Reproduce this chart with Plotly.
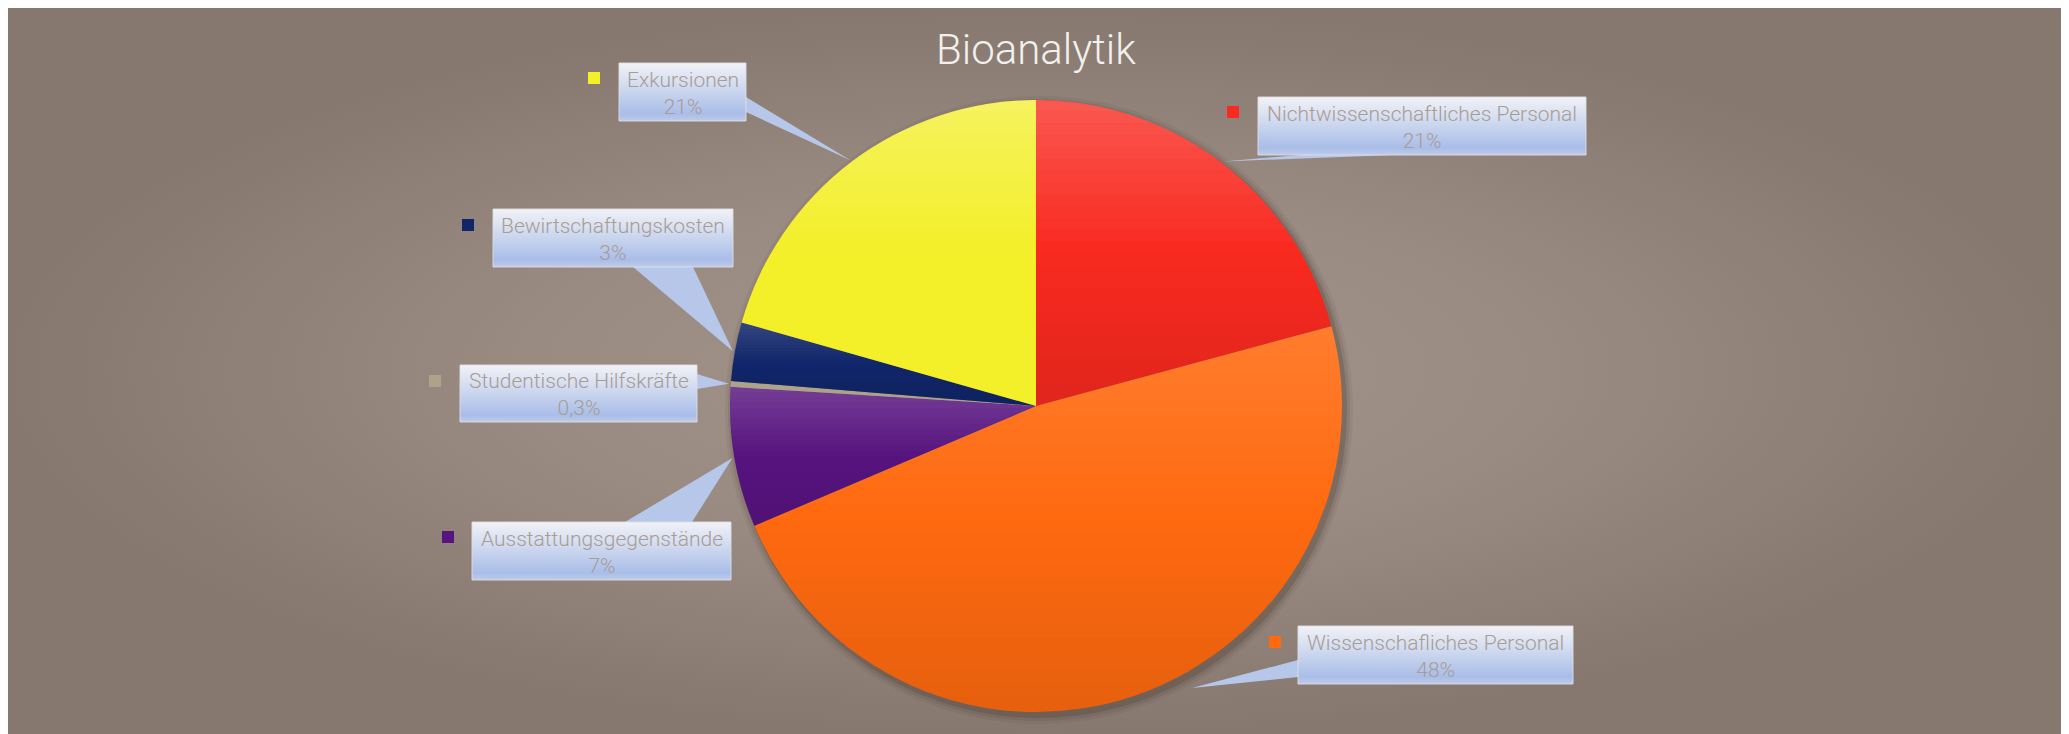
import numpy as np
import plotly.graph_objects as go

# ---------------- data ----------------
categories = [
    "Nichtwissenschaftliches Personal",
    "Wissenschafliches Personal",
    "Ausstattungsgegenstände",
    "Studentische Hilfskräfte",
    "Bewirtschaftungskosten",
    "Exkursionen",
]
shares = [20.8, 47.8, 7.4, 0.3, 3.1, 20.6]
pct_labels = ["21%", "48%", "7%", "0,3%", "3%", "21%"]
chart_title = "Bioanalytik"

# ---------------- styling / layout (screen pixels; page has 8px body margin) ----------------
slice_colors = ["#f92a20", "#ff6a10", "#57147f", "#ada38b", "#11266a", "#f3ef28"]
# per-slice shading: (white alpha at top, black alpha at bottom)
slice_shade = [(0.22, 0.10), (0.13, 0.10), (0.18, 0.08), (0.0, 0.0), (0.15, 0.10), (0.26, 0.0)]
OFF = 8
W, H = 2057, 726
X0, X1, Y0, Y1 = OFF, OFF + W, OFF, OFF + H
CX, CY, R = 1036, 406, 306

# callout boxes (x0, y0, x1, y1), legend-square position, pointer base points, optional tip
boxes = [
    dict(box=(1258, 97, 1586, 155), sq=(1233, 112), base=((1300, 155), (1393, 155))),
    dict(box=(1298, 626, 1573, 684), sq=(1275, 642), base=((1298, 660), (1298, 677)),
         tip=(1192, 688)),
    dict(box=(472, 522, 731, 580), sq=(448, 537), base=((625, 522), (692, 522))),
    dict(box=(460, 365, 697, 422), sq=(435, 381), base=((697, 374), (697, 389))),
    dict(box=(493, 209, 733, 267), sq=(468, 225), base=((633, 267), (693, 267))),
    dict(box=(619, 63, 746, 121), sq=(594, 78), base=((746, 97), (746, 112))),
]

fig = go.Figure()

# background radial gradient
fig.add_trace(go.Scatter(
    x=[X0, X1, X1, X0, X0], y=[Y0, Y0, Y1, Y1, Y0], mode="lines", fill="toself",
    line=dict(width=0),
    fillgradient=dict(type="radial",
                      colorscale=[[0, "#a29489"], [0.5, "#998b81"], [1, "#86786e"]]),
    hoverinfo="skip", showlegend=False))

# soft pie shadow
t = np.linspace(0, 2 * np.pi, 200)
for dr, alpha in [(8, 0.06), (5, 0.10), (2, 0.18)]:
    fig.add_trace(go.Scatter(
        x=CX + 3 + (R + dr) * np.cos(t), y=CY + 4 + (R + dr) * np.sin(t),
        mode="lines", fill="toself", line=dict(width=0),
        fillcolor=f"rgba(55,40,30,{alpha})", hoverinfo="skip", showlegend=False))

# slice angles (clockwise from 12 o'clock)
total = sum(shares)
cum = np.cumsum([0] + shares)
starts = [c / total * 2 * np.pi for c in cum[:-1]]
ends = [c / total * 2 * np.pi for c in cum[1:]]
mids = [(a + b) / 2 for a, b in zip(starts, ends)]

for i, cfg in enumerate(boxes):
    x0, y0, x1, y1 = cfg["box"]
    th = mids[i]
    tip = cfg.get("tip", (CX + (R + 2) * np.sin(th), CY - (R + 2) * np.cos(th)))
    (ax, ay), (bx2, by2) = cfg["base"]
    fig.add_trace(go.Scatter(
        x=[ax, tip[0], bx2, ax], y=[ay, tip[1], by2, ay], mode="lines",
        fill="toself", line=dict(width=0), fillcolor="#b6c7ea",
        hoverinfo="skip", showlegend=False))
    fig.add_trace(go.Scatter(
        x=[x0, x1, x1, x0, x0], y=[y0, y0, y1, y1, y0], mode="lines",
        fill="toself", line=dict(width=1, color="rgba(222,222,228,0.9)"),
        fillgradient=dict(type="vertical", start=y0, stop=y1,
                          colorscale=[[0, "#f1f2f7"], [0.5, "#c9d5ee"],
                                      [0.88, "#a9bde8"], [1, "#bfcce9"]]),
        hoverinfo="skip", showlegend=False))
    fig.add_annotation(
        x=(x0 + x1) / 2, y=(y0 + y1) / 2 + 1, xref="x", yref="y",
        text=f"{categories[i]}<br>{pct_labels[i]}", showarrow=False,
        xanchor="center", yanchor="middle", align="center",
        font=dict(family="Roboto", size=21, color="#a89c94", weight=300))

fig.add_trace(go.Scatter(
    x=[b["sq"][0] for b in boxes], y=[b["sq"][1] for b in boxes],
    mode="markers", marker=dict(symbol="square", size=12, color=slice_colors,
                                line=dict(width=0)),
    hoverinfo="skip", showlegend=False))

fig.add_trace(go.Pie(
    labels=categories, values=shares, sort=False, direction="clockwise",
    rotation=0, textinfo="none", showlegend=False,
    marker=dict(colors=slice_colors, line=dict(width=0)),
    domain=dict(x=[(CX - R - X0) / W, (CX + R - X0) / W],
                y=[(Y1 - CY - R) / H, (Y1 - CY + R) / H])))


# ---- per-slice vertical shading overlay (light top, darker bottom) ----
def clip_half(poly, yv, keep_below):
    out = []
    n = len(poly)
    for k in range(n):
        cur, prev = poly[k], poly[k - 1]
        cin = cur[1] >= yv if keep_below else cur[1] <= yv
        pin = prev[1] >= yv if keep_below else prev[1] <= yv
        if cin != pin:
            f = (yv - prev[1]) / (cur[1] - prev[1])
            out.append((prev[0] + f * (cur[0] - prev[0]), yv))
        if cin:
            out.append(cur)
    return out


shapes = []
NSTRIP = 26
for (a0, a1), (wa, ba) in zip(zip(starts, ends), slice_shade):
    if a1 - a0 < 0.02:
        continue
    nseg = max(2, int(np.degrees(a1 - a0)))
    angs = np.linspace(a0, a1, nseg + 1)
    wedge = [(CX, CY)] + [(CX + R * np.sin(a), CY - R * np.cos(a)) for a in angs]
    ys = [p[1] for p in wedge]
    top, bot = min(ys), max(ys)
    edges = np.linspace(top, bot, NSTRIP + 1)
    for k in range(NSTRIP):
        f = (k + 0.5) / NSTRIP
        alpha = wa * (1 - 2 * f) if f < 0.5 else ba * (2 * f - 1)
        if alpha <= 0.002:
            continue
        band = clip_half(clip_half(wedge, edges[k], True), edges[k + 1], False)
        if len(band) < 3:
            continue
        col = (f"rgba(255,255,255,{alpha:.3f})" if f < 0.5
               else f"rgba(0,0,0,{alpha:.3f})")
        path = "M " + " L ".join(f"{x:.2f},{y:.2f}" for x, y in band) + " Z"
        shapes.append(dict(type="path", path=path, xref="x", yref="y",
                           fillcolor=col, line=dict(width=0), layer="above"))

fig.add_annotation(
    x=CX, y=49, xref="x", yref="y", text=chart_title, showarrow=False,
    xanchor="center", yanchor="middle",
    font=dict(family="Roboto", size=42, color="#f2f0ee", weight=300))

fig.update_layout(
    width=W, height=H, margin=dict(l=0, r=0, t=0, b=0),
    paper_bgcolor="#8a7c72", plot_bgcolor="rgba(0,0,0,0)", showlegend=False,
    shapes=shapes,
    xaxis=dict(range=[X0, X1], visible=False, fixedrange=True, domain=[0, 1]),
    yaxis=dict(range=[Y1, Y0], visible=False, fixedrange=True, domain=[0, 1]),
)

fig.write_html("out.html")
